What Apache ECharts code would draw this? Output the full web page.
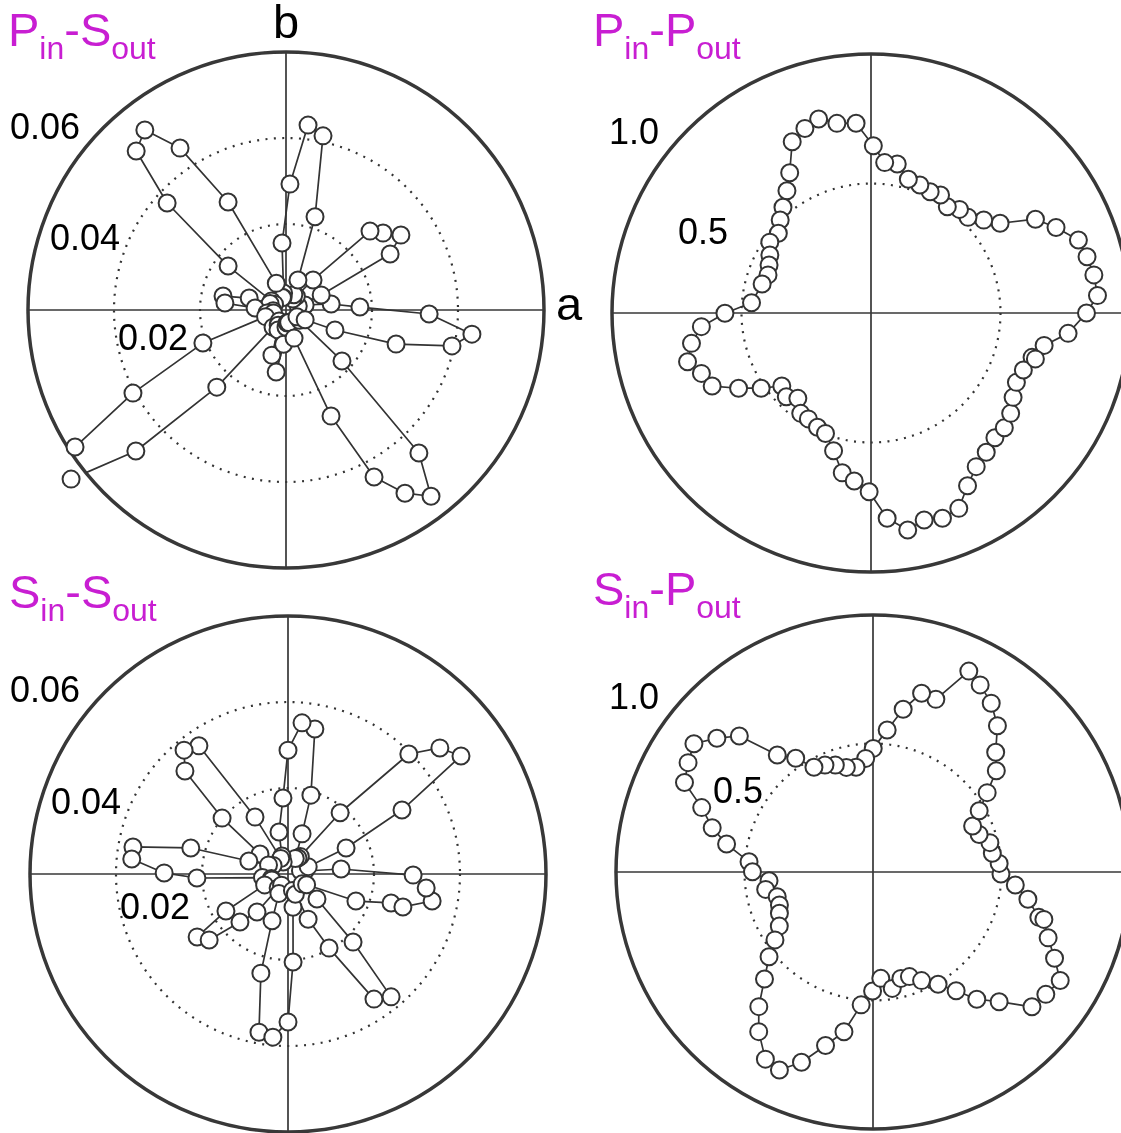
<!DOCTYPE html>
<html>
<head>
<meta charset="utf-8">
<script src="https://cdn.jsdelivr.net/npm/echarts@6/dist/echarts.min.js"></script>
<style>
  html, body { margin: 0; padding: 0; background: #ffffff; }
  #chart { width: 1121px; height: 1133px; }
</style>
</head>
<body>
<div id="chart"></div>
<script>
// Polarisation maps: angle in degrees (counter-clockwise from the a axis), amplitude.

// P_in - S_out
const pinSoutAngle = [2.3, 7.6, 14.7, 18, 23.2, 28.3, 33.1, 38.4, 43.2, 48, 53, 58, 63, 68.2, 72.7, 78, 83.2, 88.2, 93.4, 98,
  103, 106, 110, 118.2, 123.2, 128.1, 133.3, 138, 142.8, 148, 153, 158, 162, 167.5, 173.5, 176.3, 183, 189, 193, 198,
  201.7, 208.5, 213, 218.2, 223.2, 228.1, 233, 238, 243, 248, 252.7, 261, 266, 270, 274, 278, 282, 286, 293, 297.8,
  303, 307.9, 312.9, 317.7, 323, 328, 333, 337.8, 342.8, 347.8, 352.6, 358.4];
const pinSoutValue = [0.0172, 0.0106, 0.0046, 0.003, 0.0089, 0.0275, 0.0319, 0.0288, 0.0268, 0.0094,
  0.004, 0.003, 0.004, 0.0075, 0.0227, 0.0414, 0.0433, 0.0293, 0.0156, 0.004,
  0.003, 0.003, 0.0066, 0.0285, 0.0450, 0.0532, 0.0508, 0.0372, 0.0169, 0.004,
  0.003, 0.004, 0.0090, 0.0150, 0.0143, 0.0072, 0.003, 0.0045, 0.003, 0.005,
  0.0208, 0.0405, 0.0585, 0.0636, 0.0479, 0.0241, 0.005, 0.003, 0.004, 0.005,
  0.0110, 0.0146, 0.0080, 0.004, 0.003, 0.003, 0.003, 0.0068, 0.0268, 0.0439,
  0.0508, 0.0549, 0.0454, 0.0176, 0.004, 0.003, 0.005, 0.0123, 0.0268, 0.0395,
  0.0436, 0.0333];

// P_in - P_out
const pinPoutAngle = [344.6, 349.4, 354.1, 0, 4.4, 9.7, 14.6, 19.4, 24.8, 29.7, 34.8, 39.5, 44.6, 49.5, 54.3, 59.5,
  64, 69.1, 74.4, 80, 84.8, 89.2, 94.5, 100.2, 105.1, 109.7, 114.7, 120.1, 124.5, 129.8, 134.3, 139.3, 145, 150.2,
  154.8, 159.7, 165.1, 175.1, 180.1, 184.6, 189.6, 194.9, 199.6, 204.7, 209.6, 214.4, 219.3, 224.7, 229.4, 235,
  239.4, 244.9, 249.3, 254.8, 259.8, 264.3, 269.4, 274.5, 279.6, 284.4, 289.2, 294.2, 299.2, 304.4, 309.6, 314.8,
  319.3, 324.3, 329.3, 334.5, 339.5, 344.4];
const pinPoutValue = [0.645, 0.680, 0.765, 0.832, 0.877, 0.873, 0.862, 0.849, 0.787, 0.731, 0.607, 0.564, 0.526,
  0.526, 0.505, 0.529, 0.521, 0.529, 0.536, 0.584, 0.583, 0.646, 0.735, 0.744, 0.776, 0.757, 0.728, 0.626, 0.573,
  0.531, 0.502, 0.472, 0.477, 0.450, 0.435, 0.424, 0.435, 0.463, 0.564, 0.657, 0.703, 0.733, 0.695, 0.675, 0.588,
  0.514, 0.445, 0.460, 0.434, 0.473, 0.475, 0.487, 0.497, 0.551, 0.627, 0.652, 0.690, 0.795, 0.850, 0.825, 0.839,
  0.827, 0.764, 0.719, 0.698, 0.679, 0.679, 0.664, 0.638, 0.622, 0.628, 0.659];

// S_in - S_out
const sinSoutAngle = [359.5, 5.4, 10, 15, 20, 24.1, 29.3, 34.3, 39.7, 44.8, 49.6, 55, 58, 65, 70.7, 73.8, 79.5, 84.7,
  90, 93.8, 102.1, 108.4, 112, 115, 120.1, 124.8, 130, 135, 139.7, 144.5, 150, 155, 161.6, 165, 170.1, 174.5, 179.5,
  182.5, 188, 195, 200, 205, 210.8, 214.7, 219.9, 225, 230.8, 235, 240, 245, 251.2, 254.7, 259.6, 264.7, 270, 273.3,
  278.6, 285, 290, 294, 299, 304.5, 310, 313.7, 319.2, 325, 330, 338.3, 344.3, 344, 349.4, 354.2];
const sinSoutValue = [0.0291, 0.0124, 0.004, 0.003, 0.005, 0.0148, 0.0304, 0.0487, 0.0459, 0.0396,
  0.0187, 0.005, 0.0044, 0.004, 0.0099, 0.0191, 0.0343, 0.0353, 0.0288, 0.0177,
  0.0100, 0.0044, 0.003, 0.004, 0.0153, 0.0363, 0.0376, 0.0339, 0.0201, 0.0080,
  0.004, 0.005, 0.0096, 0.0234, 0.0366, 0.0365, 0.0288, 0.0212, 0.006, 0.004,
  0.004, 0.006, 0.0168, 0.0257, 0.0239, 0.0158, 0.0114, 0.004, 0.003, 0.005,
  0.0115, 0.0239, 0.0374, 0.0381, 0.0344, 0.0205, 0.0078, 0.004, 0.005, 0.0115,
  0.0197, 0.0353, 0.0373, 0.0219, 0.0089, 0.004, 0.005, 0.0170, 0.0249, 0.0278,
  0.0341, 0.0323];

// S_in - P_out
const sinPoutAngle = [344.7, 350, 354.8, 359.1, 3.9, 8.9, 14.1, 19.5, 24.8, 30, 34.8, 39.4, 44.3, 49.6, 55, 60.2,
  64.5, 70, 74.8, 79.5, 84.3, 89.9, 93.7, 99.2, 104.3, 109.4, 114.2, 119.4, 124.2, 129.3, 134.5, 139.4, 144.4,
  149.4, 154.6, 159.4, 164.6, 169.2, 175.3, 179.9, 184.8, 189.2, 194.5, 199.4, 203.8, 210, 214.7, 219.2, 224.6,
  229.7, 234.4, 240.1, 244.7, 249.4, 254.7, 259.7, 264.9, 269.8, 274.2, 279.4, 284.7, 289.2, 294.1, 300.1, 305,
  309.2, 314.2, 319.7, 324.7, 329.9, 334.6, 339.4, 344.5];
const sinPoutValue = [0.669, 0.612, 0.556, 0.498, 0.492, 0.470, 0.469, 0.438, 0.427, 0.477, 0.541, 0.621, 0.667,
  0.747, 0.802, 0.839, 0.866, 0.715, 0.721, 0.644, 0.555, 0.481, 0.443, 0.413, 0.420, 0.441, 0.456, 0.468, 0.535,
  0.588, 0.742, 0.800, 0.857, 0.836, 0.812, 0.712, 0.649, 0.580, 0.484, 0.469, 0.406, 0.423, 0.385, 0.386, 0.398,
  0.421, 0.464, 0.522, 0.593, 0.687, 0.764, 0.840, 0.852, 0.791, 0.700, 0.632, 0.519, 0.463, 0.415, 0.459, 0.428,
  0.431, 0.463, 0.505, 0.564, 0.639, 0.704, 0.811, 0.824, 0.842, 0.782, 0.728, 0.690];

// Ring values and their printed labels
const smallRings = { max: 0.06, step: 0.02, labels: ['0.06', '0.04', '0.02'] };
const largeRings = { max: 1.0, step: 0.5, labels: ['1.0', '0.5'] };

const FONT = '"Liberation Sans", Arial, Helvetica, sans-serif';
const INK = '#383838';
const TITLE_COLOR = '#c81ed2';

const panels = [
  { center: [286, 310], radius: 258, rings: smallRings, angle: pinSoutAngle, value: pinSoutValue, close: true },
  { center: [871, 313], radius: 259, rings: largeRings, angle: pinPoutAngle, value: pinPoutValue, close: false },
  { center: [288, 874], radius: 258, rings: smallRings, angle: sinSoutAngle, value: sinSoutValue, close: true },
  { center: [873, 872], radius: 257, rings: largeRings, angle: sinPoutAngle, value: sinPoutValue, close: false }
];

const polar = [], angleAxis = [], radiusAxis = [], series = [];
panels.forEach((p, i) => {
  polar.push({ center: p.center, radius: p.radius });
  angleAxis.push({
    polarIndex: i, type: 'value', min: 0, max: 360, interval: 90,
    startAngle: 0, clockwise: false,
    axisLine: { show: true, lineStyle: { color: INK, width: 3.5 } },
    axisTick: { show: false },
    axisLabel: { show: false },
    splitLine: { show: true, lineStyle: { color: INK, width: 1.7 } }
  });
  radiusAxis.push({
    polarIndex: i, type: 'value', min: 0, max: p.rings.max, interval: p.rings.step,
    axisLine: { show: false },
    axisTick: { show: false },
    axisLabel: { show: false },
    splitLine: { show: true, lineStyle: { color: '#333', width: 2.2, type: [2, 6.4] } }
  });
  const data = p.angle.map((a, j) => [p.value[j], a]);
  if (p.close) data.push({ value: [p.value[0], p.angle[0]], symbol: 'none' });
  series.push({
    type: 'line',
    coordinateSystem: 'polar',
    polarIndex: i,
    data: data,
    clip: false,
    showAllSymbol: true,
    symbol: 'circle',
    symbolSize: 17,
    lineStyle: { color: '#333', width: 1.7 },
    itemStyle: { color: '#ffffff', borderColor: '#333', borderWidth: 2 },
    emphasis: { disabled: true },
    animation: false,
    z: 3
  });
});

function tick(text, x, y) {
  return {
    type: 'text', x: x, y: y, z: 10,
    style: { text: text, font: '36px ' + FONT, fill: '#000', align: 'left', verticalAlign: 'middle' }
  };
}
// Title with subscripts: the subscript fragments sit in a taller box so they drop below the baseline
function title(main1, sub1, main2, sub2, x, y) {
  return {
    type: 'text', x: x, y: y, z: 10,
    style: {
      text: '{m|' + main1 + '}{s|' + sub1 + '}{m|' + main2 + '}{s|' + sub2 + '}',
      align: 'left', verticalAlign: 'top',
      rich: {
        m: { fontSize: 47, fontFamily: FONT, fill: TITLE_COLOR, lineHeight: 50, verticalAlign: 'top' },
        s: { fontSize: 32, fontFamily: FONT, fill: TITLE_COLOR, lineHeight: 80, verticalAlign: 'middle' }
      }
    }
  };
}

const graphic = [
  title('P', 'in', '-S', 'out', 8, 10),
  title('P', 'in', '-P', 'out', 593, 10),
  title('S', 'in', '-S', 'out', 9, 572),
  title('S', 'in', '-P', 'out', 593, 569),
  tick(smallRings.labels[0], 10, 129),
  tick(smallRings.labels[1], 50, 240),
  tick(smallRings.labels[2], 118, 340),
  tick(largeRings.labels[0], 609, 134),
  tick(largeRings.labels[1], 678, 234),
  tick(smallRings.labels[0], 10, 692),
  tick(smallRings.labels[1], 51, 804),
  tick(smallRings.labels[2], 120, 909),
  tick(largeRings.labels[0], 609, 699),
  tick(largeRings.labels[1], 713, 793),
  { type: 'text', x: 286, y: 25, z: 10,
    style: { text: 'b', font: '47px ' + FONT, fill: '#000', align: 'center', verticalAlign: 'middle' } },
  { type: 'text', x: 569, y: 307, z: 10,
    style: { text: 'a', font: '47px ' + FONT, fill: '#000', align: 'center', verticalAlign: 'middle' } }
];

const chart = echarts.init(document.getElementById('chart'), null, { renderer: 'canvas' });
chart.setOption({
  animation: false,
  backgroundColor: '#ffffff',
  polar: polar,
  angleAxis: angleAxis,
  radiusAxis: radiusAxis,
  series: series,
  graphic: graphic
});
</script>
</body>
</html>
